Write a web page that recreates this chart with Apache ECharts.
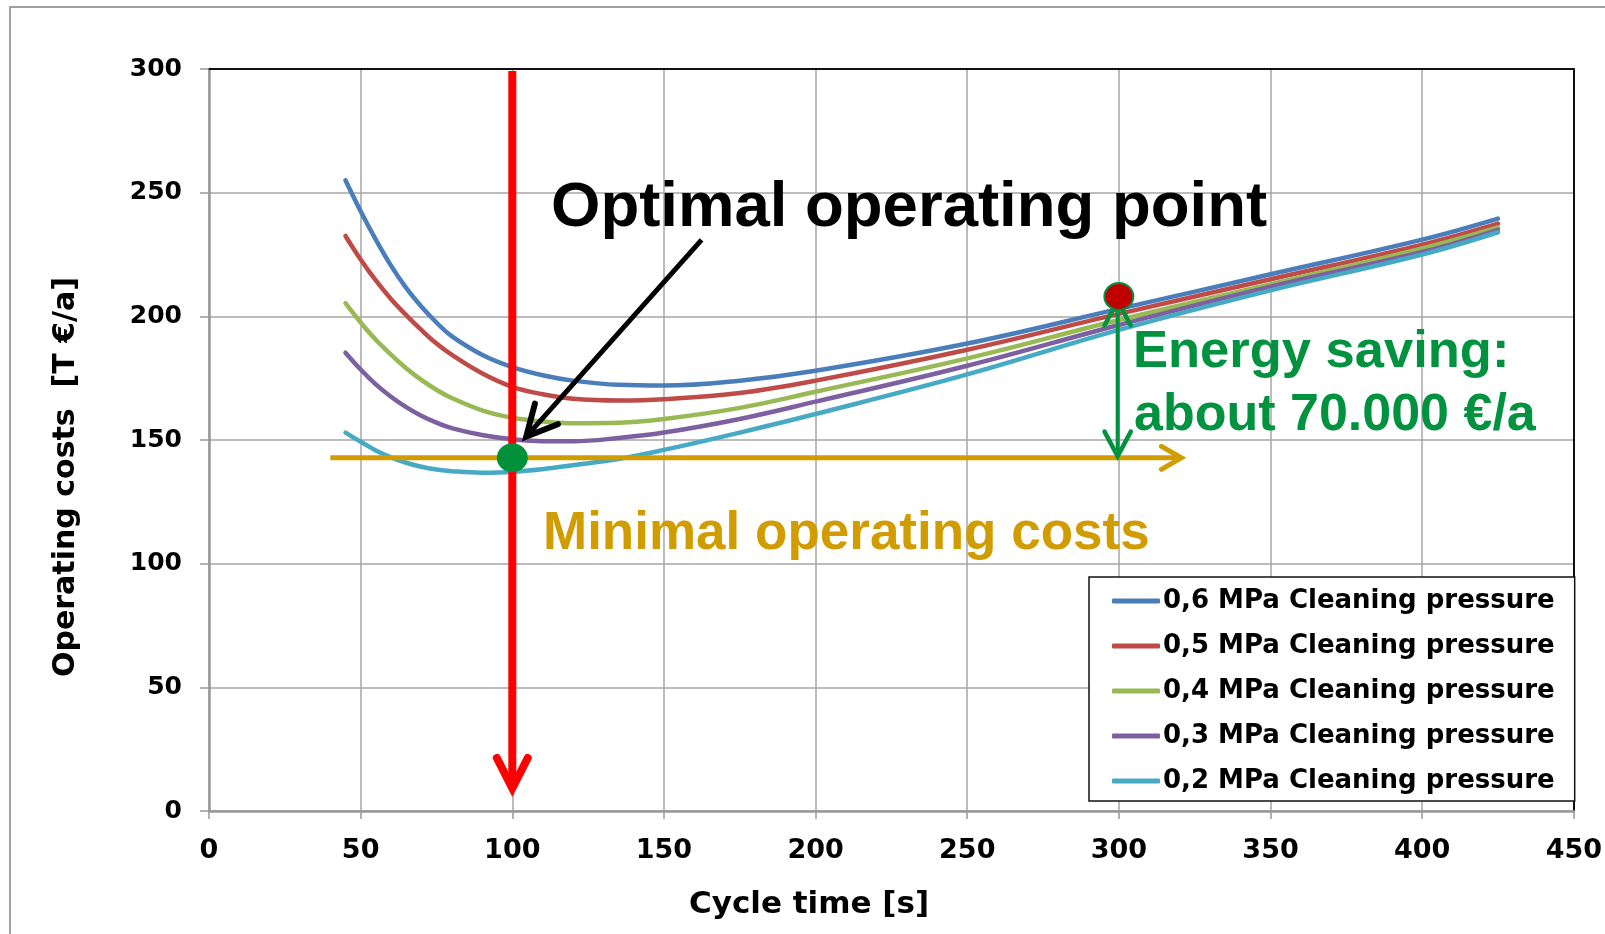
<!DOCTYPE html>
<html>
<head>
<meta charset="utf-8">
<script src="https://cdn.jsdelivr.net/npm/echarts@6/dist/echarts.min.js"></script>
<style>
  html, body { margin: 0; padding: 0; background: #fff; }
  #chart { width: 1605px; height: 934px; }
</style>
</head>
<body>
<div id="chart"></div>
<script>
// ---- Data ----
const cycleTime = [45, 50, 55, 60, 65, 70, 75, 80, 90, 100, 110, 120, 135, 150, 175, 200, 250, 300, 350, 400, 425];
const cost06 = [255, 242.5, 231, 220.5, 211.5, 204, 197.5, 192, 184.5, 179.5, 176.2, 174, 172.3, 172, 174, 178, 189, 203, 217, 231, 239.5];
const cost05 = [232.5, 223, 214.5, 207, 200.5, 194.5, 189, 184.5, 177, 171.5, 168.5, 166.7, 166, 166.5, 169, 174, 186.5, 201, 215, 229, 237.5];
const cost04 = [205.3, 197.5, 190.5, 184.5, 179, 174.3, 170.3, 167, 162, 159, 157.5, 156.8, 157, 158.5, 163, 169.5, 183, 198.5, 213, 227.5, 236];
const cost03 = [185.3, 178.5, 172.5, 167.5, 163.3, 159.8, 157, 154.8, 152, 150.3, 149.5, 149.5, 150.8, 153, 158.5, 165.5, 180, 196.5, 212, 226, 235];
const cost02 = [153, 149.3, 145.8, 143, 140.8, 139.2, 138.1, 137.4, 136.8, 137.1, 138.2, 139.8, 142.3, 146, 153, 160.5, 176.5, 194.5, 210.5, 225, 234];
const seriesNames = [
  '0,6 MPa Cleaning pressure',
  '0,5 MPa Cleaning pressure',
  '0,4 MPa Cleaning pressure',
  '0,3 MPa Cleaning pressure',
  '0,2 MPa Cleaning pressure'
];
const xTicks = [0, 50, 100, 150, 200, 250, 300, 350, 400, 450];
const yTicks = [0, 50, 100, 150, 200, 250, 300];

// annotation anchors (data coordinates)
const optimalPoint = [100, 142.8];
const referencePoint = [300, 208];
const optimalLine = [[100, 299.2], [100, 9.2]];
const minimalCostLine = [[40, 142.8], [320.6, 142.8]];
const savingArrow = [[299.6, 206.3], [299.6, 143.4]];
const pointerArrow = [[162.4, 230.9], [104.6, 151.4]];

const colors = ['#4A7EBB', '#BE4B48', '#98B954', '#7D60A0', '#46AAC5'];
const valueSets = [cost06, cost05, cost04, cost03, cost02];

const chart = echarts.init(document.getElementById('chart'));

function lineEl(a, b, color, w, cap) {
  return { type: 'line', shape: { x1: a[0], y1: a[1], x2: b[0], y2: b[1] },
    style: { stroke: color, lineWidth: w, lineCap: cap || 'round' } };
}
function headEl(tip, from, len, ang, color, w) {
  const dx = from[0] - tip[0], dy = from[1] - tip[1];
  const d = Math.hypot(dx, dy), ux = dx / d, uy = dy / d;
  const r = a => [tip[0] + len * (ux * Math.cos(a) - uy * Math.sin(a)),
                  tip[1] + len * (ux * Math.sin(a) + uy * Math.cos(a))];
  return { type: 'polyline', shape: { points: [r(ang), tip, r(-ang)] },
    style: { stroke: color, lineWidth: w, lineCap: 'round', lineJoin: 'miter', fill: null } };
}
function shorten(a, b, by) {
  const dx = b[0] - a[0], dy = b[1] - a[1], d = Math.hypot(dx, dy);
  return [b[0] - dx / d * by, b[1] - dy / d * by];
}
function renderAnnotations(params, api) {
  const ch = [];
  const deg = Math.PI / 180;
  // red vertical arrow
  let a = api.coord(optimalLine[0]), b = api.coord(optimalLine[1]);
  ch.push(lineEl(a, shorten(a, b, 5), '#FF0000', 8, 'butt'));
  ch.push(headEl(b, a, 34, 27 * deg, '#FF0000', 8));
  // gold horizontal arrow
  a = api.coord(minimalCostLine[0]); b = api.coord(minimalCostLine[1]);
  ch.push(lineEl(a, shorten(a, b, 3), '#D09C00', 5, 'butt'));
  ch.push(headEl(b, a, 23, 30 * deg, '#D09C00', 5));
  // green double arrow
  a = api.coord(savingArrow[0]); b = api.coord(savingArrow[1]);
  ch.push(lineEl(shorten(b, a, 3), shorten(a, b, 3), '#00923F', 4, 'butt'));
  ch.push(headEl(a, b, 28, 28 * deg, '#00923F', 4.5));
  ch.push(headEl(b, a, 28, 28 * deg, '#00923F', 4.5));
  // black pointer arrow
  a = api.coord(pointerArrow[0]); b = api.coord(pointerArrow[1]);
  ch.push(lineEl(a, shorten(a, b, 4), '#000000', 5, 'butt'));
  ch.push(headEl(b, a, 34, 27 * deg, '#000000', 6));
  // dots
  const p = api.coord(optimalPoint);
  ch.push({ type: 'ellipse', shape: { cx: p[0], cy: p[1], rx: 15.5, ry: 14.5 }, style: { fill: '#00913A' } });
  const q = api.coord(referencePoint);
  ch.push({ type: 'ellipse', shape: { cx: q[0], cy: q[1], rx: 14.5, ry: 13.5 },
    style: { fill: '#C00000', stroke: '#00923F', lineWidth: 2 } });
  return { type: 'group', children: ch };
}

const lineSeries = seriesNames.map((name, i) => ({
  name: name,
  type: 'line',
  xAxisIndex: 0, yAxisIndex: 0,
  data: cycleTime.map((x, j) => [x, valueSets[i][j]]),
  showSymbol: false,
  smooth: 0.4,
  lineStyle: { color: colors[i], width: 4.5, cap: 'round' },
  itemStyle: { color: colors[i] },
  emphasis: { disabled: true },
  z: 3
}));

const axisLabelFont = { fontFamily: 'DejaVu Sans', fontWeight: 'bold', color: '#000' };

const option = {
  animation: false,
  backgroundColor: '#fff',
  color: colors,
  grid: { left: 209, right: 29, top: 69, bottom: 123, containLabel: false },
  xAxis: [{
    type: 'value', min: 0, max: 450, interval: 50,
    axisLine: { show: true, onZero: false, lineStyle: { color: '#999', width: 2.5 } },
    axisTick: { show: true, length: 8, lineStyle: { color: '#999', width: 1.5 } },
    axisLabel: Object.assign({ fontSize: 27, margin: 26,
      formatter: v => xTicks.includes(v) ? String(v) : '' }, axisLabelFont),
    splitLine: { show: true, lineStyle: { color: '#A6A6A6', width: 1.5 } }
  }, {
    type: 'value', position: 'top', min: 0, max: 450, interval: 50,
    axisLine: { show: true, onZero: false, lineStyle: { color: '#111', width: 2 } },
    axisTick: { show: false }, axisLabel: { show: false }, splitLine: { show: false }
  }],
  yAxis: [{
    type: 'value', min: 0, max: 300, interval: 50,
    axisLine: { show: true, onZero: false, lineStyle: { color: '#999', width: 2.5 } },
    axisTick: { show: true, length: 9, lineStyle: { color: '#999', width: 1.5 } },
    axisLabel: Object.assign({ fontSize: 25, margin: 27,
      formatter: v => yTicks.includes(v) ? String(v) : '' }, axisLabelFont),
    splitLine: { show: true, lineStyle: { color: '#A6A6A6', width: 1.5 } }
  }, {
    type: 'value', position: 'right', min: 0, max: 300, interval: 50,
    axisLine: { show: true, onZero: false, lineStyle: { color: '#111', width: 2 } },
    axisTick: { show: false }, axisLabel: { show: false }, splitLine: { show: false }
  }],
  legend: {
    data: seriesNames,
    orient: 'vertical',
    left: 1089, top: 577,
    padding: [11, 20, 7, 23],
    itemGap: 19,
    itemWidth: 48, itemHeight: 5,
    icon: 'roundRect',
    backgroundColor: '#fff',
    borderColor: '#111', borderWidth: 1.5,
    selectedMode: false,
    textStyle: { fontFamily: 'DejaVu Sans', fontWeight: 'bold', fontSize: 26, color: '#000', padding: [0, 0, 0, -2] }
  },
  graphic: [
    { type: 'rect', shape: { x: 10, y: 7, width: 1700, height: 1100 },
      style: { fill: null, stroke: '#A0A0A0', lineWidth: 2 }, silent: true, z: -1 },
    { type: 'text', x: 66, y: 477, rotation: Math.PI / 2,
      style: { text: 'Operating costs  [T €/a]', font: 'bold 30px "DejaVu Sans"', fill: '#000',
        align: 'center', verticalAlign: 'middle' } },
    { type: 'text', x: 809, y: 905,
      style: { text: 'Cycle time [s]', font: 'bold 31px "DejaVu Sans"', fill: '#000',
        align: 'center', verticalAlign: 'middle' } },
    { type: 'text', x: 551, y: 208, z: 10,
      style: { text: 'Optimal operating point', font: 'bold 63.5px "Liberation Sans"', fill: '#000',
        align: 'left', verticalAlign: 'middle' } },
    { type: 'text', x: 1133, y: 353, z: 10,
      style: { text: 'Energy saving:', font: 'bold 52.5px "Liberation Sans"', fill: '#00923F',
        align: 'left', verticalAlign: 'middle' } },
    { type: 'text', x: 1134, y: 416, z: 10,
      style: { text: 'about 70.000 €/a', font: 'bold 52px "Liberation Sans"', fill: '#00923F',
        align: 'left', verticalAlign: 'middle' } },
    { type: 'text', x: 543, y: 534, z: 10,
      style: { text: 'Minimal operating costs', font: 'bold 53px "Liberation Sans"', fill: '#D09C00',
        align: 'left', verticalAlign: 'middle' } }
  ],
  series: lineSeries.concat([{
    type: 'custom',
    name: 'annotations',
    xAxisIndex: 0, yAxisIndex: 0,
    data: [[0, 0]],
    renderItem: renderAnnotations,
    clip: false,
    silent: true,
    z: 5
  }])
};
chart.setOption(option);
</script>
</body>
</html>
